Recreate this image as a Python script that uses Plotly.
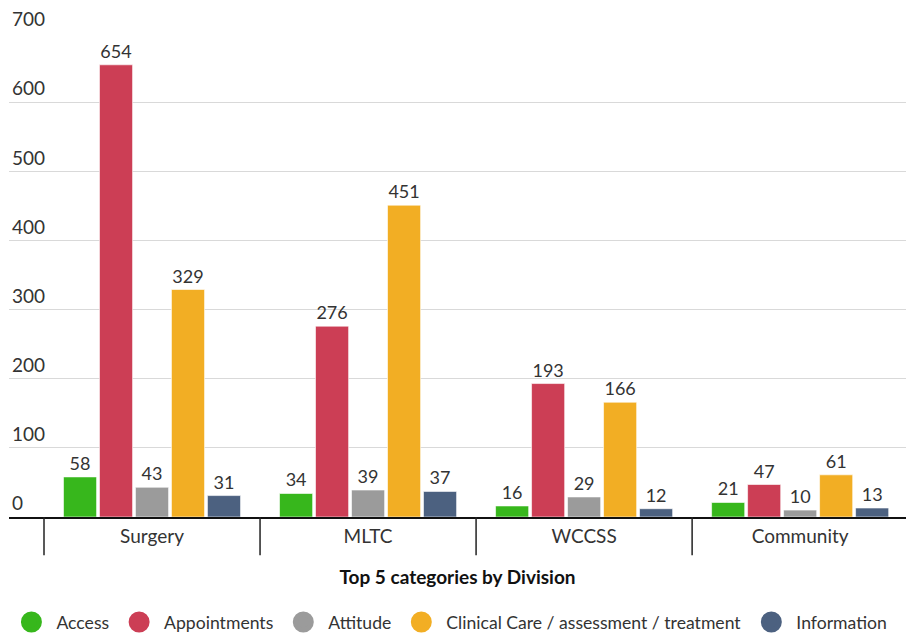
import plotly.graph_objects as go

divisions = ["Surgery", "MLTC", "WCCSS", "Community"]
categories = ["Access", "Appointments", "Attitude",
              "Clinical Care / assessment / treatment", "Information"]
access = [58, 34, 16, 21]
appointments = [654, 276, 193, 47]
attitude = [43, 39, 29, 10]
clinical_care = [329, 451, 166, 61]
information = [31, 37, 12, 13]
series = [access, appointments, attitude, clinical_care, information]
colors = ["#37b71c", "#cc3e55", "#9b9b9b", "#f2ae24", "#4c6180"]
y_ticks = [0, 100, 200, 300, 400, 500, 600, 700]

FONT = "Lato"
TEXT = "#333333"

fig = go.Figure()
for name, vals, col in zip(categories, series, colors):
    fig.add_trace(go.Bar(
        x=divisions, y=vals, name=name, showlegend=False,
        marker=dict(color=col, line=dict(color="rgba(255,255,255,0.6)", width=1)),
        text=[str(v) for v in vals], textposition="outside",
        textfont=dict(family=FONT, size=18, color=TEXT),
        cliponaxis=False,
    ))
    # circular legend entries
    fig.add_trace(go.Scatter(
        x=[None], y=[None], mode="markers", name=name,
        marker=dict(symbol="circle", color=col, size=16,
                    line=dict(color=col, width=6)),
    ))

# division separators below the axis
shapes = []
for i in range(len(divisions)):
    shapes.append(dict(type="line", xref="x", yref="paper",
                       x0=i - 0.5, x1=i - 0.5, y0=0, y1=-0.079,
                       line=dict(color="#222222", width=1.5)))

fig.update_layout(
    width=906, height=634,
    margin=dict(l=9, r=0, t=33, b=117, autoexpand=False),
    paper_bgcolor="white", plot_bgcolor="white",
    font=dict(family=FONT, size=18, color=TEXT),
    barmode="group", bargap=0.167, bargroupgap=0.08,
    shapes=shapes,
    showlegend=True,
    legend=dict(orientation="h", x=0.491, xanchor="center",
                y=-0.217, yanchor="middle",
                font=dict(family=FONT, size=17.6, color=TEXT),
                itemsizing="trace", itemwidth=40),
    xaxis=dict(
        type="category", range=[-0.662, 3.49], automargin=False,
        showline=True, linecolor="#111111", linewidth=2,
        ticks="", ticklabelstandoff=1,
        tickfont=dict(family=FONT, size=19, color=TEXT),
        showgrid=False, zeroline=False,
        title=dict(text="<b>Top 5 categories by Division</b>",
                   font=dict(family=FONT, size=19, color="#111111"),
                   standoff=25),
    ),
    yaxis=dict(
        range=[0, 700], tickvals=y_ticks, automargin=False,
        ticklabelposition="inside top", ticklabeloverflow="allow",
        tickfont=dict(family=FONT, size=19, color=TEXT),
        showgrid=True, gridcolor="#d9d9d9", gridwidth=1,
        zeroline=False, showline=False, ticks="",
    ),
)

fig.write_html("out.html")
